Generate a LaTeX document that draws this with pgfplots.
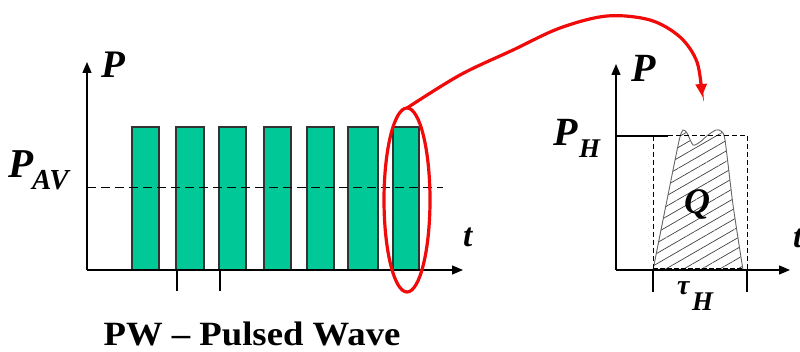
\documentclass[border=0pt]{standalone}
\usepackage{pgfplots}
\pgfplotsset{compat=1.18}
\usepackage{fontspec}
\setmainfont{Liberation Serif}
\usetikzlibrary{arrows.meta,patterns.meta}
\definecolor{pulsegreen}{RGB}{0,200,150}
\definecolor{arrowred}{RGB}{240,10,10}

% pulse train: left edge, right edge, top level, base level
\pgfplotstableread{
x0  x1  top base
132 159 127 270
176 204 127 270
219 246 127 270
264 291 127 270
307 334 127 270
348 378 127 270
393 419 127 270
}\pulses

\newcommand{\lbl}[1]{\fontsize{#1}{#1}\selectfont\bfseries\itshape}

\begin{document}
\begin{tikzpicture}[x=1pt,y=1pt]
\clip (0,0) rectangle (800,352);
\begin{axis}[
  at={(0,0)}, anchor=south west,
  width=800pt, height=352pt, scale only axis,
  xmin=0, xmax=800, ymin=0, ymax=352, y dir=reverse,
  hide axis, clip=false,
]
% ---------- pulsed wave ----------
\pgfplotstablegetrowsof{\pulses}
\pgfmathtruncatemacro{\nrows}{\pgfplotsretval-1}
\foreach \i in {0,...,\nrows}{
  \pgfplotstablegetelem{\i}{x0}\of{\pulses}\let\xa\pgfplotsretval
  \pgfplotstablegetelem{\i}{x1}\of{\pulses}\let\xb\pgfplotsretval
  \pgfplotstablegetelem{\i}{top}\of{\pulses}\let\yt\pgfplotsretval
  \pgfplotstablegetelem{\i}{base}\of{\pulses}\let\yb\pgfplotsretval
  \edef\temp{\noexpand\addplot[fill=pulsegreen, draw=black!80, line width=1.5pt]
    coordinates {(\xa,\yb) (\xa,\yt) (\xb,\yt) (\xb,\yb)} -- cycle;}
  \temp
}
% average power level
\addplot[black, line width=1pt, dash pattern=on 9pt off 5pt] coordinates {(87,188) (443,188)};
% axes
\addplot[black, line width=1.4pt, -{Triangle[length=11pt,width=9pt]}] coordinates {(87,270) (87,62)};
\addplot[black, line width=1.4pt, -{Triangle[length=11pt,width=9pt]}] coordinates {(87,270) (463,270)};
% period markers
\addplot[black, line width=1.1pt] coordinates {(177,270) (177,291)};
\addplot[black, line width=1.1pt] coordinates {(220,270) (220,291)};

\node[anchor=base west, inner sep=0] at (axis cs:101,78) {\lbl{39}P};
\node[anchor=base west, inner sep=0] at (axis cs:8,178) {\lbl{41}P};
\node[anchor=base west, inner sep=0] at (axis cs:32,190) {\lbl{29}AV};
\node[anchor=base west, inner sep=0] at (axis cs:463,247) {\lbl{33}t};
\node[anchor=base, inner sep=0, xscale=1.08] at (axis cs:252,345) {\fontsize{34}{34}\selectfont\bfseries PW -- Pulsed Wave};

% ---------- zoomed single pulse ----------
% hatched energy area
\addplot[draw=black!60, line width=0.9pt, smooth, tension=0.4,
  pattern={Lines[angle=30, distance=9pt, line width=0.7pt]}, pattern color=black!75]
  coordinates {(653,270) (666,205) (679,141) (683,130) (687,133) (693,145)
               (700,142) (708,135) (716,130) (721,131) (725,140) (733,205) (743,270)} -- cycle;
% dashed equivalent rectangle
\addplot[black, line width=1pt, dash pattern=on 5pt off 3pt] coordinates {(653,136) (653,270)};
\addplot[black, line width=1pt, dash pattern=on 5pt off 3pt] coordinates {(747,136) (747,270)};
\addplot[black, line width=1pt, dash pattern=on 5pt off 3pt] coordinates {(668,136) (747,136)};
\addplot[black, line width=1.4pt, dash pattern=on 5pt off 2pt] coordinates {(653,269) (743,269)};
% peak power level
\addplot[black, line width=1.2pt] coordinates {(616,136) (668,136)};
% axes
\addplot[black, line width=1.4pt, -{Triangle[length=11pt,width=9pt]}] coordinates {(616,270) (616,64)};
\addplot[black, line width=1.4pt, -{Triangle[length=11pt,width=9pt]}] coordinates {(616,270) (790,270)};
% pulse width markers
\addplot[black, line width=1.1pt] coordinates {(653,270) (653,292)};
\addplot[black, line width=1.1pt] coordinates {(747,270) (747,292)};

\node[anchor=base west, inner sep=0] at (axis cs:631,82) {\lbl{40}P};
\node[anchor=base west, inner sep=0] at (axis cs:553,146) {\lbl{40}P};
\node[anchor=base west, inner sep=0] at (axis cs:579,158) {\lbl{27}H};
\node[anchor=base west, inner sep=0] at (axis cs:684,214) {\lbl{36}Q};
\node[anchor=base west, inner sep=0] at (axis cs:677,295) {\lbl{28}τ};
\node[anchor=base west, inner sep=0] at (axis cs:692,311) {\lbl{27}H};
\node[anchor=base west, inner sep=0] at (axis cs:793,248) {\lbl{33}t};

% ---------- magnifier ----------
\draw[arrowred, line width=3.2pt] (axis cs:407,200) ellipse [x radius=23, y radius=92];
\addplot[arrowred, line width=3.2pt, smooth, tension=0.55, -{Triangle[length=12pt,width=11pt]}]
  coordinates {(407,108) (460,75) (513,50) (560,28) (607,16) (650,20) (680,37) (697,62) (702,96)};
\end{axis}
\end{tikzpicture}
\end{document}
